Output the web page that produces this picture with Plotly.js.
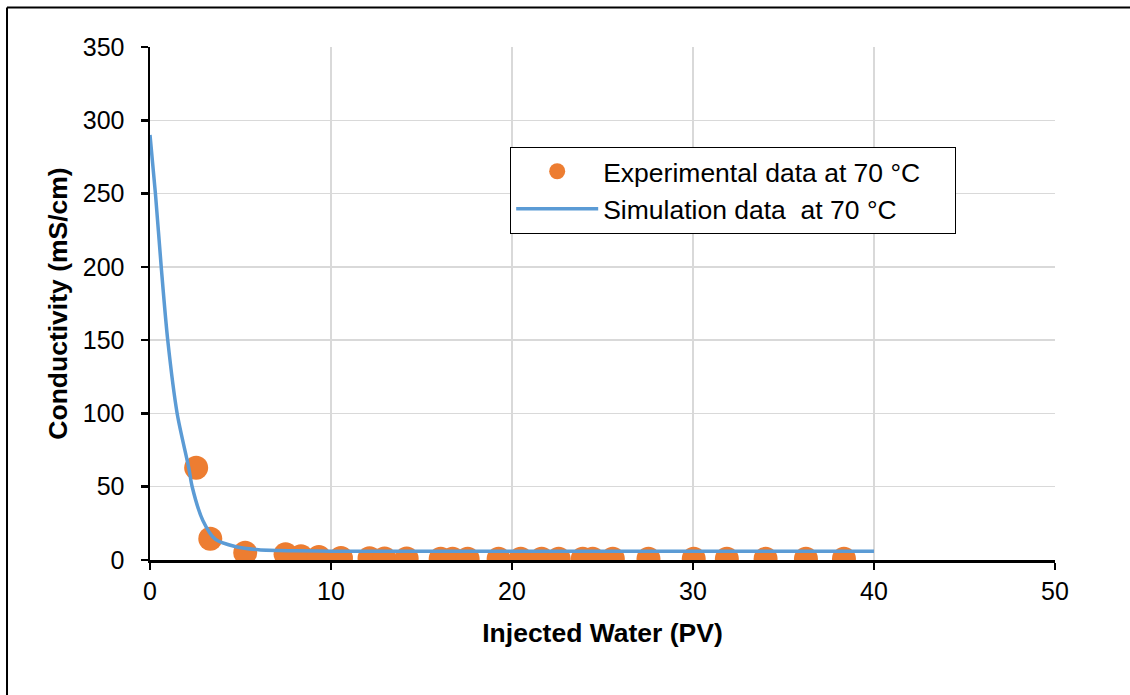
<!DOCTYPE html>
<html>
<head>
<meta charset="utf-8">
<script src="https://cdn.plot.ly/plotly-3.0.1.min.js"></script>
<style>
html,body{margin:0;padding:0;background:#fff;}
#chart{width:1130px;height:695px;}
</style>
</head>
<body>
<div id="chart"></div>
<script>
// Experimental data at 70 °C
const expX = [2.55, 3.33, 5.26, 7.49, 8.34, 9.33, 10.55, 12.13, 12.96, 14.18, 16.06, 16.72, 17.55, 19.26, 20.48, 21.64, 22.58, 23.91, 24.46, 25.57, 27.54, 30.04, 31.87, 34.01, 36.24, 38.34];
const expY = [63, 14.5, 5, 4, 2.5, 2, 1.3, 1.2, 1.1, 1.0, 0.9, 0.9, 0.9, 0.9, 0.9, 0.8, 0.8, 0.8, 0.8, 0.8, 0.8, 0.8, 0.8, 0.8, 0.8, 0.8];
// Simulation data at 70 °C
const simX = [0, 0.3, 0.62, 0.98, 1.5, 2.14, 2.33, 2.92, 3.62, 4.76, 6, 8, 10, 15, 20, 30, 40];
const simY = [290, 250, 200, 150, 100, 63, 50, 27, 14, 9, 7, 6.3, 6, 6, 6, 6, 6];
const xTicks = [0, 10, 20, 30, 40, 50];
const yTicks = [0, 50, 100, 150, 200, 250, 300, 350];
const pad = '\u00a0\u00a0\u00a0\u00a0';

const font = 'Arial, "Liberation Sans", sans-serif';

const traces = [
  {
    x: expX, y: expY, mode: 'markers', type: 'scatter',
    name: 'Experimental data at 70 °C' + pad,
    marker: {color: '#ED7D31', size: 24},
    legendgroup: 'a'
  },
  {
    x: simX, y: simY, mode: 'lines', type: 'scatter',
    name: 'Simulation data  at 70 °C' + pad,
    line: {color: '#5B9BD5', width: 3.5, shape: 'spline', smoothing: 0.8},
    legendgroup: 'b'
  }
];

const layout = {
  width: 1130, height: 695,
  margin: {l: 150, r: 75, t: 47, b: 135},
  paper_bgcolor: '#fff', plot_bgcolor: '#fff',
  font: {family: font, size: 25, color: '#000'},
  showlegend: true,
  legend: {
    x: 0.398, y: 0.806, xanchor: 'left', yanchor: 'top',
    bgcolor: '#fff', bordercolor: '#000', borderwidth: 1,
    font: {family: font, size: 26.5, color: '#000'},
    tracegroupgap: 0, traceorder: 'grouped', itemwidth: 82
  },
  xaxis: {
    range: [0, 50], tickvals: xTicks, ticktext: xTicks.map(String),
    showgrid: true, gridcolor: '#d9d9d9', gridwidth: 1.5,
    showline: true, linecolor: '#000', linewidth: 2.5,
    ticks: 'outside', ticklen: 7, tickwidth: 2.5, tickcolor: '#000',
    zeroline: false,
    tickfont: {family: font, size: 25, color: '#000'},
    title: {text: 'Injected Water (PV)', font: {family: font, size: 26.5, color: '#000', weight: 'bold'}, standoff: 20}
  },
  yaxis: {
    range: [0, 350], tickvals: yTicks, ticktext: yTicks.map(String),
    showgrid: true, gridcolor: '#d9d9d9', gridwidth: 1.5,
    showline: true, linecolor: '#000', linewidth: 2.5,
    ticks: 'outside', ticklen: 7, tickwidth: 2.5, tickcolor: '#000',
    ticklabelstandoff: 11,
    zeroline: false,
    tickfont: {family: font, size: 25, color: '#000'},
    title: {text: 'Conductivity (mS/cm)', font: {family: font, size: 26.5, color: '#000', weight: 'bold'}, standoff: 8}
  },
  shapes: [
    {type: 'line', xref: 'paper', yref: 'paper', x0: -0.158, x1: -0.158, y0: -0.3, y1: 1.077, line: {color: '#000', width: 2}},
    {type: 'line', xref: 'paper', yref: 'paper', x0: -0.158, x1: 1.1, y0: 1.077, y1: 1.077, line: {color: '#000', width: 2}}
  ]
};

Plotly.newPlot('chart', traces, layout, {displayModeBar: false, staticPlot: true});
</script>
</body>
</html>
